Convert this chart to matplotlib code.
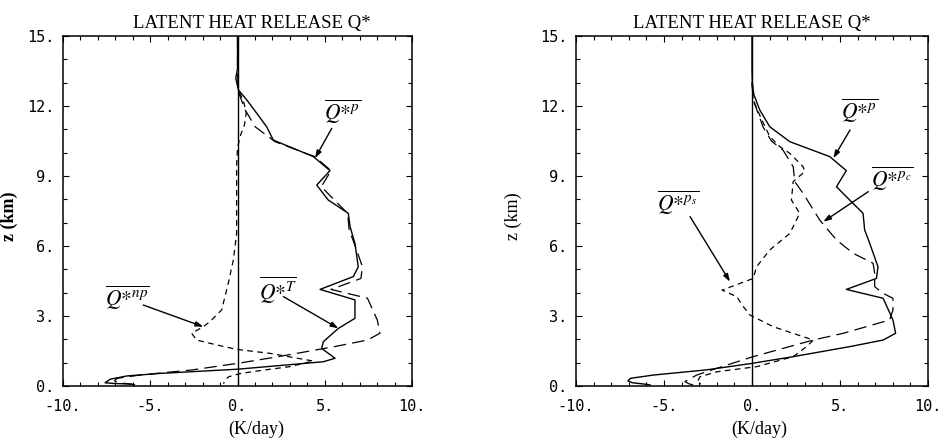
import matplotlib.pyplot as plt
from matplotlib.ticker import MultipleLocator

plt.rcParams['mathtext.fontset'] = 'stix'

# precipitating latent heating (K/day), used in both panels
z_p = [15.0, 13.6, 13.0, 12.5, 11.83, 11.11, 10.47, 9.83, 9.23, 8.54, 7.97, 7.4,
       6.69, 6.11, 5.11, 4.61, 4.14, 3.76, 2.83, 2.26, 1.97, 1.69, 1.26, 0.97,
       0.69, 0.47, 0.33, 0.22, 0.14, 0.09, 0.05]
q_p = [0.0, 0.0, 0.02, 0.1, 0.44, 1.01, 2.15, 4.42, 5.36, 4.8, 5.55, 6.31,
       6.4, 6.69, 7.16, 7.07, 5.36, 7.45, 8.01, 8.16, 7.45, 5.57, 2.35, 0.0,
       -2.6, -5.6, -6.9, -7.05, -6.8, -6.2, -5.8]

# total
z_t = [15.0, 13.6, 13.2, 12.69, 12.26, 11.69, 11.11, 10.54, 9.83, 9.23, 8.61,
       7.97, 7.4, 6.83, 6.11, 5.11, 4.69, 4.14, 3.69, 2.9, 2.47, 1.9, 1.61,
       1.19, 1.04, 0.72, 0.54, 0.43, 0.29, 0.14, 0.11, 0.08]
q_t = [0.0, 0.0, -0.1, 0.05, 0.53, 1.1, 1.67, 2.05, 4.35, 5.3, 4.54,
       5.2, 6.35, 6.45, 6.73, 6.92, 6.64, 4.73, 6.73, 6.73, 5.78, 4.92, 4.82,
       5.59, 4.92, 0.0, -4.44, -6.35, -7.3, -7.59, -7.12, -6.07]

# non-precipitating
z_np = [13.0, 12.6, 12.2, 11.7, 11.2, 10.7, 10.2, 9.5, 8.5, 7.5, 6.54, 5.4,
        4.4, 3.26, 2.76, 2.54, 2.26, 1.97, 1.76, 1.57, 1.40, 1.07, 0.83, 0.66,
        0.54, 0.40, 0.26, 0.10]
q_np = [0.0, 0.1, 0.35, 0.5, 0.4, 0.15, 0.0, -0.05, -0.05, -0.05, -0.05, -0.24,
        -0.53, -0.91, -1.58, -1.96, -2.63, -2.34, -1.19, -0.05, 1.86, 4.34, 3.0, 1.29,
        0.2, -0.5, -0.72, -0.8]

# convective part of precipitating
z_pc = [13.0, 12.26, 11.1, 10.5, 10.1, 9.4, 8.76, 8.26, 7.11, 6.26, 5.69, 5.26,
        4.83, 4.26, 3.97, 3.76, 3.26, 2.83, 2.26, 1.97, 1.26, 0.76, 0.47, 0.19,
        0.10, 0.04]
q_pc = [0.0, 0.07, 0.63, 1.1, 1.77, 2.34, 2.43, 2.9, 3.85, 4.8, 5.74, 6.88,
        6.97, 6.97, 7.45, 8.01, 8.01, 7.82, 5.19, 3.48, 0.07, -2.0, -3.14, -3.81,
        -3.6, -3.34]

# stratiform part of precipitating
z_ps = [13.0, 12.26, 11.5, 10.69, 10.26, 9.97, 9.4, 9.19, 8.76, 7.97, 7.4, 6.54,
        5.83, 5.11, 4.61, 4.11, 3.83, 3.4, 3.04, 2.54, 2.11, 1.97, 1.69, 1.26,
        0.83, 0.61, 0.40, 0.19, 0.08]
q_ps = [0.0, 0.07, 0.5, 1.01, 1.58, 2.15, 2.9, 3.0, 2.34, 2.24, 2.71, 2.15,
        1.01, 0.26, 0.07, -1.7, -0.87, -0.49, -0.11, 1.21, 2.92, 3.49, 3.1, 2.35,
        0.27, -2.0, -2.95, -3.1, -2.9]

x_ticks = [-10, -5, 0, 5, 10]
x_ticklabels = ['-10.', '-5.', '0.', '5.', '10.']
z_ticks = [0, 3, 6, 9, 12, 15]
z_ticklabels = ['0.', '3.', '6.', '9.', '12.', '15.']

title = 'LATENT HEAT RELEASE Q*'

LONG = (0, (10, 5))
SHORT = (0, (4.5, 3.5))
serif = 'Liberation Serif'


def setup_axes(ax, title_x, xlabel_x, ylabel_x, ylabel_weight):
    ax.set_xlim(-10, 10)
    ax.set_ylim(0, 15)
    ax.set_xticks(x_ticks)
    ax.set_xticklabels(x_ticklabels, family='DejaVu Sans Mono')
    ax.set_yticks(z_ticks)
    ax.set_yticklabels(z_ticklabels, family='DejaVu Sans Mono')
    ax.xaxis.set_minor_locator(MultipleLocator(1))
    ax.yaxis.set_minor_locator(MultipleLocator(1))
    ax.tick_params(which='both', direction='in', top=True, right=True, width=0.8)
    ax.tick_params(which='major', length=4, labelsize=11)
    ax.tick_params(which='minor', length=3)
    ax.tick_params(axis='x', pad=9)
    ax.tick_params(axis='y', pad=6)
    for s in ax.spines.values():
        s.set_linewidth(1.1)
    ax.axvline(0, color='k', lw=1.0)
    ax.set_title(title, family=serif, fontsize=13.5, x=title_x, y=1.023, pad=0)
    ax.set_xlabel('(K/day)', family=serif, fontsize=13)
    ax.xaxis.set_label_coords(xlabel_x, -0.1)
    ax.set_ylabel('z (km)', family=serif, fontsize=13, weight=ylabel_weight)
    ax.yaxis.set_label_coords(ylabel_x, 0.485)


def label(ax, text, xy_text, xy_arrow_from, xy_arrow_to):
    ax.text(*xy_text, text, fontsize=15.5, ha='center', va='center')
    ax.annotate('', xy=xy_arrow_to, xytext=xy_arrow_from,
                arrowprops=dict(arrowstyle='-|>,head_length=0.45,head_width=0.15',
                                color='k', lw=1.0, shrinkA=0, shrinkB=0))


fig = plt.figure(figsize=(9.48, 4.4), dpi=100)
ax1 = fig.add_axes([0.0665, 0.1227, 0.3681, 0.7955])
ax2 = fig.add_axes([0.6076, 0.1227, 0.3713, 0.7955])

# total = precipitating + non-precipitating
ax1.plot(q_p, z_p, color='k', lw=0.9, ls=LONG)
ax1.plot(q_np, z_np, color='k', lw=0.9, ls=SHORT)
ax1.plot(q_t, z_t, color='k', lw=1.0)
setup_axes(ax1, 0.541, 0.553, -0.129, 'bold')
label(ax1, r'$\overline{Q{*}^{p}}$', (6.0, 11.75), (5.4, 11.04), (4.44, 9.76))
label(ax1, r'$\overline{Q{*}^{T}}$', (2.3, 4.1), (2.63, 3.83), (5.78, 2.47))
label(ax1, r'$\overline{Q{*}^{np}}$', (-6.3, 3.8), (-5.4, 3.47), (-1.96, 2.54))

# precipitating = convective + stratiform
ax2.plot(q_pc, z_pc, color='k', lw=0.9, ls=LONG)
ax2.plot(q_ps, z_ps, color='k', lw=0.9, ls=SHORT)
ax2.plot(q_p, z_p, color='k', lw=1.0)
setup_axes(ax2, 0.5, 0.52, -0.153, 'normal')
label(ax2, r'$\overline{Q{*}^{p}}$', (6.1, 11.8), (5.57, 10.97), (4.62, 9.76))
label(ax2, r'$\overline{Q{*}^{p_c}}$', (7.95, 8.9), (6.61, 8.33), (4.05, 7.04))
label(ax2, r'$\overline{Q{*}^{p_s}}$', (-4.2, 7.85), (-3.52, 7.26), (-1.25, 4.47))

fig.savefig('out.png', dpi=100)
